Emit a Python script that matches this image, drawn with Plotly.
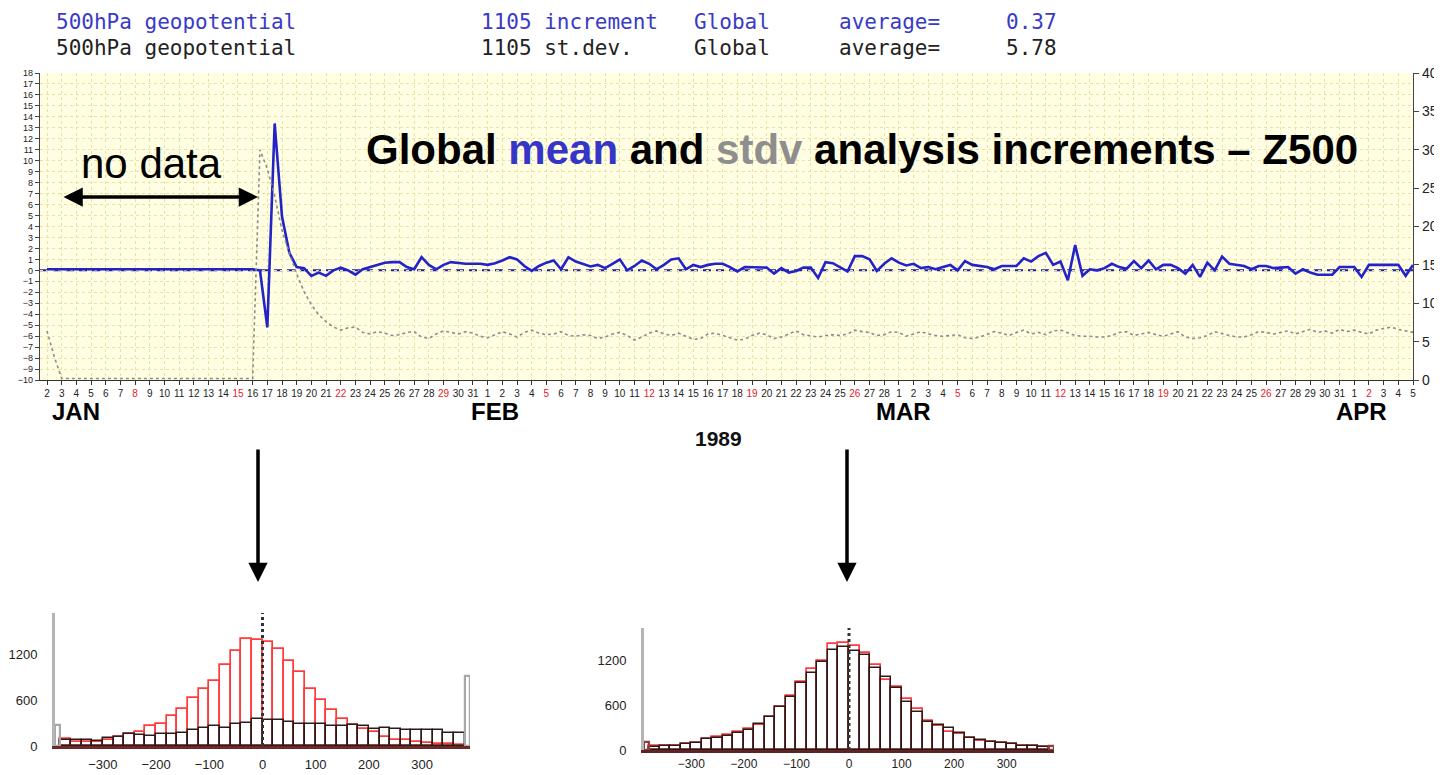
import plotly.graph_objects as go
import pandas as pd

# page body has an 8px default margin: figure is offset by 8px
OFF = 8
W, H = 1442 - OFF, 775 - OFF
def px(x): return (x - OFF) / W
def py(y): return 1 - (y - OFF) / H

# ---------------- data ----------------
# 12-hourly global mean increment (left axis), from 1989-01-02 00z
mean_incr = [
    0.1, 0.1, 0.1, 0.1, 0.1, 0.1, 0.1, 0.1, 0.1, 0.1,
    0.1, 0.1, 0.1, 0.1, 0.1, 0.1, 0.1, 0.1, 0.1, 0.1,
    0.1, 0.1, 0.1, 0.1, 0.1, 0.1, 0.1, 0.1, 0.1,
    0.0, -5.2, 13.4, 4.9, 1.6, 0.3, 0.2, -0.5, -0.2, -0.5, 0.0,
    0.25, 0.0, -0.4, 0.1, 0.3, 0.5, 0.7, 0.75, 0.75, 0.3,
    0.1, 1.2, 0.5, 0.1, 0.5, 0.75, 0.65, 0.6, 0.6, 0.6,
    0.5, 0.65, 0.9, 1.2, 1.0, 0.4, -0.05, 0.4, 0.7, 0.9,
    0.1, 1.2, 0.8, 0.6, 0.35, 0.5, 0.2, 0.6, 1.0, 0.0,
    0.4, 0.9, 0.6, 0.1, 0.5, 1.0, 1.1, 0.1, 0.5, 0.3,
    0.5, 0.6, 0.6, 0.3, -0.1, 0.3, 0.3, 0.3, 0.25, -0.3,
    0.2, -0.2, -0.05, 0.25, 0.25, -0.7, 0.75, 0.65, 0.3, -0.1,
    1.3, 1.3, 1.0, -0.05, 0.6, 1.1, 0.7, 0.45, 0.6, 0.2,
    0.3, 0.1, 0.3, 0.5, 0.0, 0.85, 0.5, 0.4, 0.3, 0.1,
    0.4, 0.4, 0.4, 1.1, 0.8, 1.3, 1.6, 0.5, 0.8, -0.9,
    2.3, -0.5, 0.1, 0.0, 0.2, 0.6, 0.3, 0.15, 0.85, 0.2,
    0.9, 0.1, 0.5, 0.5, 0.2, -0.3, 0.5, -0.6, 0.7, 0.0,
    1.25, 0.6, 0.5, 0.4, 0.1, 0.4, 0.4, 0.2, 0.25, 0.3,
    -0.3, 0.1, -0.2, -0.4, -0.4, -0.4, 0.3, 0.3, 0.3, -0.6,
    0.5, 0.5, 0.5, 0.5, 0.5, -0.5, 0.5,
]
# 12-hourly global st.dev. of increment (right axis)
stdv_incr = [
    6.4, 3.0,
    0.2, 0.2, 0.2, 0.2, 0.2, 0.2, 0.2, 0.2, 0.2, 0.2,
    0.2, 0.2, 0.2, 0.2, 0.2, 0.2, 0.2, 0.2, 0.2, 0.2,
    0.2, 0.2, 0.2, 0.2, 0.2, 0.2, 0.2,
    30.0, 27.5, 24.0, 19.5, 16.5, 13.8, 11.5, 9.8, 8.5, 7.6, 6.9, 6.5, 6.8, 6.9,
    6.2, 6.0, 6.3, 6.1, 5.8, 5.9, 6.2, 6.3, 5.6, 5.4, 6.0, 6.4, 6.2, 6.0, 6.3, 6.1, 5.7, 5.5,
    5.9, 6.3, 6.0, 5.6, 6.2, 6.5, 6.1, 5.9, 6.0, 6.3, 5.8, 5.7, 5.9, 5.8, 5.4, 5.6, 6.0, 6.2, 5.8, 5.2,
    5.6, 6.1, 6.4, 6.0, 5.8, 6.1, 5.7, 5.3, 5.4, 6.0, 6.1, 5.8, 5.5, 5.2, 5.3, 5.8, 6.1, 5.9, 5.4, 5.6,
    6.0, 6.4, 5.9, 5.7, 5.6, 5.8, 5.9, 5.8, 6.0, 6.5, 6.3, 6.2, 5.8, 5.9, 6.3, 6.2, 5.7, 6.0, 6.3, 6.0,
    5.8, 5.7, 5.8, 5.9, 5.5, 5.4, 5.6, 6.0, 6.3, 6.1, 5.8, 6.2, 6.5, 6.0, 6.2, 5.9, 6.4, 6.5, 6.1, 5.8,
    5.7, 5.7, 5.6, 5.6, 5.8, 6.2, 6.3, 5.8, 6.0, 6.2, 5.9, 5.7, 6.0, 6.3, 5.6, 5.4, 5.5, 5.8, 6.3, 6.0,
    5.8, 5.6, 5.6, 5.9, 6.3, 6.2, 6.0, 6.2, 6.4, 6.0, 6.3, 6.6, 6.2, 6.4, 6.1, 6.6, 6.3, 6.5, 6.2, 6.0,
    6.5, 6.7, 6.9, 6.6, 6.4, 6.2,
]
times = pd.date_range("1989-01-02 00:00", periods=len(mean_incr), freq="12h")
tick_days = pd.date_range("1989-01-02", "1989-04-05", freq="D")
month_labels = ["JAN", "FEB", "MAR", "APR"]
year_label = "1989"

header_lines = [
    ["500hPa geopotential", "1105 increment", "Global", "average=", "0.37"],
    ["500hPa geopotential", "1105 st.dev.", "Global", "average=", "5.78"],
]

# histograms: bins of 20 from -380 to 380
hist_bins = list(range(-370, 371, 20))
hist1_red = [96, 53, 53, 53, 75, 118, 153, 184, 258, 285, 390, 477, 622, 740, 850, 1056, 1235, 1397, 1380, 1353,
             1266, 1112, 959, 740, 600, 469, 346, 272, 228, 184, 118, 83, 75, 53, 39, 31, 22, 18]
hist1_black = [75, 75, 75, 66, 105, 118, 162, 140, 131, 153, 162, 175, 206, 241, 263, 237, 285, 302, 346, 337,
               337, 315, 285, 285, 285, 258, 267, 280, 258, 228, 232, 228, 206, 206, 206, 206, 175, 175]
hist1_overflow = [280, 907]
hist2_red = [60, 50, 60, 85, 95, 150, 170, 195, 240, 275, 335, 445, 580, 720, 911, 1076, 1190, 1413, 1422, 1387,
             1289, 1133, 933, 836, 676, 542, 391, 320, 244, 213, 160, 125, 105, 95, 80, 60, 50, 40]
hist2_black = [44, 53, 53, 80, 89, 142, 164, 187, 231, 267, 347, 436, 569, 702, 898, 1031, 1178, 1333, 1369, 1324,
               1267, 1089, 969, 822, 644, 511, 378, 333, 298, 222, 164, 133, 111, 98, 76, 53, 53, 36]
hist2_overflow = [110, 50]
overflow_pos = [-385, 385]

# ---------------- figure ----------------
RED_SUN = "#e8202a"
ticktext = [f"<span style='color:{RED_SUN}'>{d.day}</span>" if d.weekday() == 6 else str(d.day)
            for d in tick_days]

fig = go.Figure()
fig.add_trace(go.Scatter(x=times, y=stdv_incr, xaxis="x", yaxis="y2", mode="lines",
                         line=dict(color="#8c8c8c", width=1.6, dash="dot"), showlegend=False))
fig.add_trace(go.Scatter(x=times, y=mean_incr, xaxis="x", yaxis="y", mode="lines",
                         line=dict(color="#2323c8", width=2.6), showlegend=False))

clear = "rgba(255,255,255,0)"
def add_hist(xa, ya, red, black, overflow, over_color):
    fig.add_trace(go.Bar(x=hist_bins, y=red, width=20, xaxis=xa, yaxis=ya, showlegend=False,
                         marker=dict(color=clear, line=dict(color="#ff3b3b", width=1.7))))
    fig.add_trace(go.Bar(x=hist_bins, y=black, width=20, xaxis=xa, yaxis=ya, showlegend=False,
                         marker=dict(color=clear, line=dict(color="#2a1a1a", width=1.5))))
    fig.add_trace(go.Bar(x=overflow_pos, y=overflow, width=9, xaxis=xa, yaxis=ya, showlegend=False,
                         marker=dict(color=clear, line=dict(color=over_color, width=2.2))))

add_hist("x3", "y3", hist1_red, hist1_black, hist1_overflow, "#a8a8a8")
add_hist("x4", "y4", hist2_red, hist2_black, hist2_overflow, "#8a4040")

GRID = "#e6e3a8"
axis_font = dict(family="Liberation Sans, Arial, sans-serif", color="#222")

layout = dict(
    width=W, height=H, autosize=False,
    margin=dict(l=0, r=0, t=0, b=0),
    paper_bgcolor="white", plot_bgcolor="rgba(0,0,0,0)",
    barmode="overlay", bargap=0,
    xaxis=dict(domain=[px(40), px(1413)], anchor="y", type="date",
               range=["1989-01-01 12:34", "1989-04-05 00:00"],
               tickmode="array", tickvals=tick_days, ticktext=ticktext, tickangle=0,
               tickfont=dict(size=10, **axis_font), ticks="outside", ticklen=4, tickcolor="#333",
               showgrid=True, gridcolor=GRID, griddash="dot", gridwidth=1,
               showline=True, linecolor="#333", linewidth=1.2, zeroline=False, automargin=False),
    yaxis=dict(domain=[py(380), py(73)], anchor="x", range=[-10, 18], tickmode="linear", tick0=0, dtick=1,
               tickfont=dict(size=9, **axis_font), ticks="outside", ticklen=4, tickcolor="#444",
               showgrid=True, gridcolor=GRID, griddash="dot", gridwidth=1,
               showline=True, linecolor="#444", linewidth=1.2, zeroline=False, automargin=False),
    yaxis2=dict(overlaying="y", anchor="x", side="right", range=[0, 40], tickmode="linear", tick0=0, dtick=5,
                tickfont=dict(size=14, **axis_font), ticks="outside", ticklen=5, tickcolor="#444",
                showgrid=False, showline=True, linecolor="#444", linewidth=1.2, zeroline=False,
                automargin=False),
    xaxis3=dict(domain=[px(55), px(470)], anchor="y3", range=[-390, 390], tickmode="array",
                tickvals=[-300, -200, -100, 0, 100, 200, 300], tickfont=dict(size=13, **axis_font),
                ticks="outside", ticklen=4, tickcolor="rgba(0,0,0,0)",
                showgrid=False, zeroline=False, showline=True, linecolor="#6b2a2a", linewidth=3,
                automargin=False),
    yaxis3=dict(domain=[py(746), py(613)], anchor="x3", range=[0, 1734], tickmode="array",
                tickvals=[0, 600, 1200], tickfont=dict(size=13, **axis_font),
                ticks="outside", ticklen=12, tickcolor="rgba(0,0,0,0)",
                showgrid=False, zeroline=False, showline=True, linecolor="#b5b5b5", linewidth=3,
                automargin=False),
    xaxis4=dict(domain=[px(644), px(1054)], anchor="y4", range=[-390, 390], tickmode="array",
                tickvals=[-300, -200, -100, 0, 100, 200, 300], tickfont=dict(size=12, **axis_font),
                ticks="outside", ticklen=1, tickcolor="rgba(0,0,0,0)",
                showgrid=False, zeroline=False, showline=True, linecolor="#5a2525", linewidth=3,
                automargin=False),
    yaxis4=dict(domain=[py(750), py(628)], anchor="x4", range=[0, 1627], tickmode="array",
                tickvals=[0, 600, 1200], tickfont=dict(size=13, **axis_font),
                ticks="outside", ticklen=12, tickcolor="rgba(0,0,0,0)",
                showgrid=False, zeroline=False, showline=True, linecolor="#b5b5b5", linewidth=3,
                automargin=False),
)
fig.update_layout(**layout)

shapes = [
    dict(type="rect", xref="x domain", yref="y domain", x0=0, x1=1, y0=0, y1=1,
         fillcolor="#fffee2", line=dict(width=0), layer="below"),
    dict(type="line", xref="x domain", yref="y", x0=0, x1=1, y0=0, y1=0,
         line=dict(color="#1c1c9c", width=2, dash="8px,5px"), layer="below"),
    dict(type="line", xref="x3", yref="y3 domain", x0=0, x1=0, y0=0, y1=1,
         line=dict(color="#333", width=3, dash="dot")),
    dict(type="line", xref="x4", yref="y4 domain", x0=0, x1=0, y0=0, y1=1,
         line=dict(color="#333", width=3, dash="dot")),
]
fig.update_layout(shapes=shapes)

mono = "DejaVu Sans Mono, Liberation Mono, monospace"
sans = "Liberation Sans, Arial, sans-serif"
ann = []
header_x = [55, 480, 693, 838, 1005]
header_y = [22, 48]
header_col = ["#3a3ac8", "#222222"]
for li, line in enumerate(header_lines):
    for txt, hx in zip(line, header_x):
        ann.append(dict(text=txt, x=px(hx), y=py(header_y[li]), xref="paper", yref="paper",
                        xanchor="left", yanchor="middle", showarrow=False, borderpad=0,
                        font=dict(family=mono, size=21, color=header_col[li])))

month_x = ["1989-01-04 00:00", "1989-02-01 12:00", "1989-03-01 08:00", "1989-04-01 12:00"]
for lab, mx in zip(month_labels, month_x):
    ann.append(dict(text=f"<b>{lab}</b>", x=mx, y=py(411), xref="x", yref="paper",
                    xanchor="center", yanchor="middle", showarrow=False,
                    font=dict(family=sans, size=24, color="black")))
ann.append(dict(text=f"<b>{year_label}</b>", x=px(718), y=py(438), xref="paper", yref="paper",
                xanchor="center", yanchor="middle", showarrow=False,
                font=dict(family=sans, size=21, color="#111")))

ann.append(dict(text="<b>Global <span style='color:#3535c8'>mean</span> and "
                     "<span style='color:#8e8e8e'>stdv</span> analysis increments – Z500</b>",
                x=px(364), y=py(150), xref="paper", yref="paper", xanchor="left", yanchor="middle",
                showarrow=False, font=dict(family=sans, size=42, color="black")))
ann.append(dict(text="no data", x=px(79), y=py(163), xref="paper", yref="paper",
                xanchor="left", yanchor="middle", showarrow=False,
                font=dict(family=sans, size=42, color="black")))
# double arrow
ann.append(dict(text="", x=px(258), y=py(197), xref="paper", yref="paper", ax=-196, ay=0,
                showarrow=True, arrowhead=2, arrowside="end+start", arrowwidth=3.5, arrowsize=1.1,
                arrowcolor="black"))
# down arrows
for ax_x in (258, 847):
    ann.append(dict(text="", x=px(ax_x), y=py(582), xref="paper", yref="paper", ax=0, ay=-134,
                    showarrow=True, arrowhead=2, arrowwidth=3.5, arrowsize=1.1, arrowcolor="black"))

fig.update_layout(annotations=ann)
fig.write_html("out.html")
